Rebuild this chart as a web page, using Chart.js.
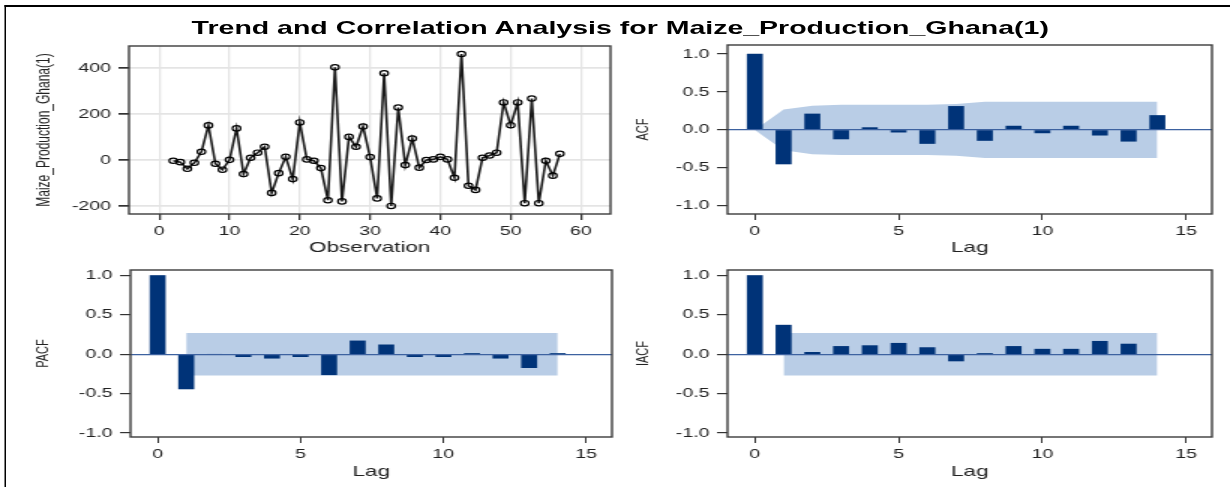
<!DOCTYPE html>
<html>
<head>
<meta charset="utf-8">
<script src="https://cdn.jsdelivr.net/npm/chart.js@4.4.1/dist/chart.umd.min.js"></script>
<style>
  html, body { margin: 0; padding: 0; background: #fff; overflow: hidden; }
  /* the reference is stretched sideways, so the whole page is drawn narrow and widened */
  #page { position: absolute; left: 0; top: 0; width: 820px; height: 487px; transform: scaleX(1.5); transform-origin: 0 0; }
  #frame { position: absolute; left: 3.3px; top: 5px; width: 900px; height: 500px; border-top: 2px solid #000; border-left: 1.4px solid #000; }
  #title { position: absolute; left: 0; top: 17px; width: 827px; line-height: 20px; text-align: center;
           font: bold 19px "Liberation Sans", Arial, sans-serif; color: #000; }
  canvas { position: absolute; }
</style>
</head>
<body>
<div id="page">
  <div id="frame"></div>
  <div id="title">Trend and Correlation Analysis for Maize_Production_Ghana(1)</div>
  <canvas id="series-chart" width="410" height="222" style="left:0px;top:40px"></canvas>
  <canvas id="acf-chart" width="400" height="222" style="left:415px;top:40px"></canvas>
  <canvas id="pacf-chart" width="410" height="225" style="left:0px;top:262px"></canvas>
  <canvas id="iacf-chart" width="400" height="225" style="left:415px;top:262px"></canvas>
</div>
<script>
// 1. Data
const observations = [2, 3, 4, 5, 6, 7, 8, 9, 10, 11, 12, 13, 14, 15, 16, 17, 18, 19, 20, 21,
    22, 23, 24, 25, 26, 27, 28, 29, 30, 31, 32, 33, 34, 35, 36, 37, 38, 39, 40, 41,
    42, 43, 44, 45, 46, 47, 48, 49, 50, 51, 52, 53, 54, 55, 56, 57];
const maizeDiff = [-3, -9, -38, -12, 36, 151, -16, -42, 1, 138, -61, 10, 32, 58, -143, -57, 14, -83, 164, 3,
    -3, -35, -175, 404, -180, 101, 58, 146, 13, -167, 378, -200, 229, -22, 94, -33, 0, 3, 14, 3,
    -77, 462, -112, -130, 10, 20, 32, 251, 152, 251, -188, 268, -188, -3, -68, 27];

const acfLags = [0, 1, 2, 3, 4, 5, 6, 7, 8, 9, 10, 11, 12, 13, 14];
const acfValues = [1.0, -0.45, 0.21, -0.12, 0.03, -0.03, -0.18, 0.31, -0.14, 0.05, -0.04, 0.05, -0.07, -0.15, 0.19];
const acfUpper = [0, 0.27, 0.32, 0.33, 0.33, 0.33, 0.33, 0.34, 0.37, 0.37, 0.37, 0.37, 0.37, 0.37, 0.37];
const acfLower = [0, -0.27, -0.32, -0.33, -0.33, -0.33, -0.33, -0.34, -0.37, -0.37, -0.37, -0.37, -0.37, -0.37, -0.37];

const pacfLags = [0, 1, 2, 3, 4, 5, 6, 7, 8, 9, 10, 11, 12, 13, 14];
const pacfValues = [1.0, -0.44, 0.0, -0.03, -0.05, -0.03, -0.26, 0.17, 0.12, -0.03, -0.03, 0.01, -0.05, -0.17, 0.01];

const iacfLags = [0, 1, 2, 3, 4, 5, 6, 7, 8, 9, 10, 11, 12, 13];
const iacfValues = [1.0, 0.37, 0.025, 0.10, 0.11, 0.14, 0.085, -0.085, 0.01, 0.10, 0.065, 0.065, 0.165, 0.13];

// PACF and IACF share the same flat limits from lag 1 to 14
const bandLags = [1, 2, 3, 4, 5, 6, 7, 8, 9, 10, 11, 12, 13, 14];
const bandUpper = [0.27, 0.27, 0.27, 0.27, 0.27, 0.27, 0.27, 0.27, 0.27, 0.27, 0.27, 0.27, 0.27, 0.27];
const bandLower = [-0.27, -0.27, -0.27, -0.27, -0.27, -0.27, -0.27, -0.27, -0.27, -0.27, -0.27, -0.27, -0.27, -0.27];

const obsTicks = [0, 10, 20, 30, 40, 50, 60];
const valueTicks = [-200, 0, 200, 400];
const lagTicks = [0, 5, 10, 15];
const corrTicks = [-1.0, -0.5, 0.0, 0.5, 1.0];

// 2. Shared look
Chart.defaults.font.family = '"Liberation Sans", Arial, sans-serif';
Chart.defaults.color = '#222';
const BAR = '#003378';
const BAND = '#b9cde6';
const ZERO = '#3d62a0';

const framePlugin = {
    id: 'frame',
    afterDraw(chart) {
        const { ctx, chartArea: a } = chart;
        ctx.save();
        ctx.strokeStyle = '#3c3c3c';
        ctx.lineWidth = 1.4;
        ctx.strokeRect(a.left, a.top, a.right - a.left, a.bottom - a.top);
        ctx.restore();
    }
};

const toPoints = (xs, ys) => xs.map((x, i) => ({ x: x, y: ys[i] }));
const fixTicks = (list) => (scale) => { scale.ticks = list.map(v => ({ value: v })); };
// fixed axis box, and no extra inset for the end labels
const fixSize = (w, h) => (s) => {
    if (w !== null) s.width = w;
    if (h !== null) s.height = h;
    s.paddingTop = 0; s.paddingBottom = 0; s.paddingLeft = 0; s.paddingRight = 0;
};

// 3. Time series panel
new Chart(document.getElementById('series-chart'), {
    type: 'line',
    data: {
        datasets: [{
            data: toPoints(observations, maizeDiff),
            borderColor: '#1a1a1a',
            borderWidth: 1.6,
            pointRadius: 2.7,
            pointBorderWidth: 1.2,
            pointBorderColor: '#000',
            pointBackgroundColor: 'rgba(255,255,255,0)',
            tension: 0
        }]
    },
    options: {
        responsive: false,
        animation: false,
        layout: { autoPadding: false, padding: { top: 6, right: 3, left: 0, bottom: 0 } },
        plugins: { legend: { display: false }, tooltip: { enabled: false } },
        scales: {
            x: {
                type: 'linear', min: -4.3, max: 64.2,
                afterBuildTicks: fixTicks(obsTicks),
                afterFit: fixSize(null, 48),
                border: { display: false },
                grid: { color: '#e4e4e4', lineWidth: 1.3, tickColor: '#333', tickLength: 6 },
                ticks: { font: { size: 13 }, padding: 4, maxRotation: 0 },
                title: { display: true, text: 'Observation', font: { size: 15 }, padding: { top: 0, bottom: 5 } }
            },
            y: {
                min: -235, max: 497,
                afterBuildTicks: fixTicks(valueTicks),
                afterFit: fixSize(86, null),
                border: { display: false },
                grid: { color: '#e4e4e4', lineWidth: 1.7, tickColor: '#333', tickLength: 7 },
                ticks: { font: { size: 13 }, padding: 5 },
                title: { display: true, text: 'Maize_Production_Ghana(1)', font: { size: 12 }, padding: { top: 22, bottom: 0 } }
            }
        }
    },
    plugins: [framePlugin]
});

// 4. Correlation panels
function corrChart(id, yTitle, lags, values, bLags, upper, lower, opt) {
    return new Chart(document.getElementById(id), {
        type: 'bar',
        data: {
            datasets: [{
                type: 'bar',
                data: toPoints(lags, values),
                backgroundColor: BAR,
                borderWidth: 0,
                barThickness: 10,
                order: 0
            }, {
                type: 'line',
                data: toPoints(bLags, upper),
                borderColor: 'rgba(0,0,0,0)',
                borderWidth: 0,
                pointRadius: 0,
                backgroundColor: BAND,
                fill: '+1',
                order: 1
            }, {
                type: 'line',
                data: toPoints(bLags, lower),
                borderColor: 'rgba(0,0,0,0)',
                borderWidth: 0,
                pointRadius: 0,
                fill: false,
                order: 1
            }]
        },
        options: {
            responsive: false,
            animation: false,
            layout: { autoPadding: false, padding: opt.padding },
            plugins: { legend: { display: false }, tooltip: { enabled: false } },
            scales: {
                x: {
                    type: 'linear', min: -0.95, max: 15.9, offset: false,
                    afterBuildTicks: fixTicks(lagTicks),
                    afterFit: fixSize(null, opt.xHeight),
                    border: { display: false },
                    grid: { offset: false, drawOnChartArea: false, tickColor: '#333', tickLength: 6 },
                    ticks: { font: { size: 13 }, padding: 4, maxRotation: 0 },
                    title: { display: true, text: 'Lag', font: { size: 15 }, padding: { top: 0, bottom: opt.titleBottom } }
                },
                y: {
                    min: opt.yMin, max: opt.yMax,
                    afterBuildTicks: fixTicks(corrTicks),
                    afterFit: fixSize(opt.yWidth, null),
                    border: { display: false },
                    // only the zero line is drawn, on top of the band
                    grid: {
                        z: 1,
                        color: (c) => (c.tick && c.tick.value === 0 ? ZERO : 'rgba(0,0,0,0)'),
                        lineWidth: 1.2,
                        tickColor: '#333',
                        tickLength: 7
                    },
                    ticks: { font: { size: 13 }, padding: 5, callback: (v) => Number(v).toFixed(1) },
                    title: { display: true, text: yTitle, font: { size: 11 }, padding: { top: opt.titleLeft, bottom: 0 } }
                }
            }
        },
        plugins: [framePlugin]
    });
}

corrChart('acf-chart', 'ACF', acfLags, acfValues, acfLags, acfUpper, acfLower, {
    padding: { top: 5, right: 7, left: 0, bottom: 0 }, xHeight: 48, yWidth: 70,
    yMin: -1.11, yMax: 1.12, titleBottom: 5, titleLeft: 7
});
corrChart('pacf-chart', 'PACF', pacfLags, pacfValues, bandLags, bandUpper, bandLower, {
    padding: { top: 8, right: 2, left: 0, bottom: 0 }, xHeight: 50, yWidth: 87,
    yMin: -1.05, yMax: 1.07, titleBottom: 6.5, titleLeft: 22
});
corrChart('iacf-chart', 'IACF', iacfLags, iacfValues, bandLags, bandUpper, bandLower, {
    padding: { top: 8, right: 7, left: 0, bottom: 0 }, xHeight: 50, yWidth: 70,
    yMin: -1.05, yMax: 1.07, titleBottom: 6.5, titleLeft: 7
});
</script>
</body>
</html>
